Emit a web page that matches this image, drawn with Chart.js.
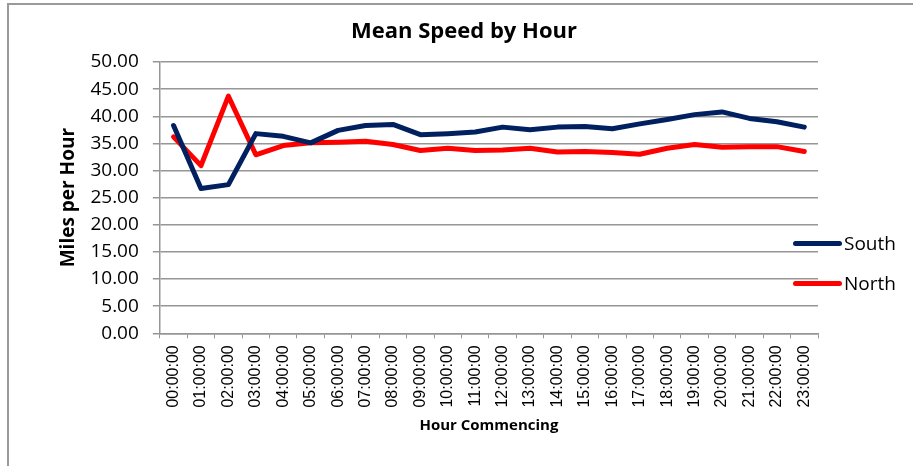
<!DOCTYPE html>
<html lang="en">
<head>
    <meta charset="UTF-8">
    <title>Mean Speed by Hour</title>
    <script src="https://cdn.jsdelivr.net/npm/chart.js"></script>
    <style>
        body {
            margin: 0;
            background: #fff;
            font-family: "Open Sans", "Liberation Sans", Arial, sans-serif;
            overflow: hidden;
        }
        .frame {
            position: absolute;
            left: 7px;
            top: 3px;
            width: 930px;
            height: 490px;
            border: 2px solid #9a9a9a;
        }
        canvas {
            position: absolute;
            left: 0;
            top: 0;
        }
        .title {
            position: absolute;
            left: 264px;
            width: 400px;
            top: 15px;
            line-height: 28px;
            text-align: center;
            font-size: 22px;
            font-weight: bold;
            color: #000;
        }
        .legend {
            position: absolute;
            left: 793px;
            top: 230px;
            font-size: 19px;
            color: #000;
        }
        .legend-item {
            display: flex;
            align-items: center;
            height: 26px;
            margin-bottom: 14px;
        }
        .legend-line {
            width: 49px;
            height: 5px;
            border-radius: 3px;
            margin-right: 2px;
        }
    </style>
</head>
<body>
    <div class="frame"></div>
    <canvas id="speedChart" width="913" height="466"></canvas>
    <div class="title">Mean Speed by Hour</div>
    <div class="legend" id="legend"></div>

    <script>
        const hours = ['00:00:00', '01:00:00', '02:00:00', '03:00:00', '04:00:00', '05:00:00',
                       '06:00:00', '07:00:00', '08:00:00', '09:00:00', '10:00:00', '11:00:00',
                       '12:00:00', '13:00:00', '14:00:00', '15:00:00', '16:00:00', '17:00:00',
                       '18:00:00', '19:00:00', '20:00:00', '21:00:00', '22:00:00', '23:00:00'];
        const south = [38.3, 26.7, 27.4, 36.8, 36.3, 35.1, 37.4, 38.3, 38.5, 36.6, 36.8, 37.1,
                       38.0, 37.5, 38.0, 38.1, 37.7, 38.6, 39.4, 40.3, 40.8, 39.6, 39.0, 38.0];
        const north = [36.2, 30.9, 43.7, 32.9, 34.6, 35.1, 35.2, 35.4, 34.8, 33.7, 34.1, 33.7,
                       33.8, 34.1, 33.4, 33.5, 33.3, 33.0, 34.1, 34.8, 34.3, 34.4, 34.4, 33.5];
        const seriesNames = ['South', 'North'];
        const seriesColors = ['#002060', '#ff0000'];

        const font = '"Open Sans", "Liberation Sans", Arial, sans-serif';
        const tickFont = '"Liberation Sans", Arial, sans-serif';
        const gridColor = '#969696';

        const ctx = document.getElementById('speedChart').getContext('2d');
        const chart = new Chart(ctx, {
            type: 'line',
            data: {
                labels: hours,
                datasets: [south, north].map((values, i) => ({
                    label: seriesNames[i],
                    data: values,
                    borderColor: seriesColors[i],
                    backgroundColor: seriesColors[i],
                    borderWidth: 5,
                    borderCapStyle: 'round',
                    borderJoinStyle: 'round',
                    pointRadius: 0,
                    tension: 0
                }))
            },
            options: {
                responsive: false,
                animation: false,
                devicePixelRatio: 1,
                layout: { padding: { left: 50, right: 95, top: 62, bottom: 25 } },
                plugins: {
                    legend: { display: false },
                    tooltip: { enabled: false }
                },
                scales: {
                    x: {
                        offset: true,
                        grid: {
                            offset: true,
                            drawOnChartArea: false,
                            color: gridColor,
                            tickLength: 5
                        },
                        border: { color: gridColor, width: 1.5 },
                        ticks: {
                            color: '#000',
                            font: { family: tickFont, size: 16 },
                            minRotation: 90,
                            maxRotation: 90,
                            padding: 7,
                            autoSkip: false
                        },
                        title: {
                            display: true,
                            text: 'Hour Commencing',
                            color: '#000',
                            font: { family: font, size: 15, weight: 'bold' },
                            padding: { top: 2, bottom: 6.4 }
                        }
                    },
                    y: {
                        min: 0,
                        max: 50,
                        grid: { color: gridColor, lineWidth: 1.5, tickLength: 7 },
                        border: { color: gridColor, width: 1.5 },
                        ticks: {
                            stepSize: 5,
                            color: '#000',
                            font: { family: font, size: 19 },
                            padding: 14,
                            callback: v => v.toFixed(2)
                        },
                        title: {
                            display: true,
                            text: 'Miles per Hour',
                            color: '#000',
                            font: { family: font, size: 19, weight: 'bold' },
                            padding: { top: 7, bottom: -3.4 }
                        }
                    }
                }
            }
        });

        // legend sits to the right of the plot, like the spreadsheet one
        const legend = document.getElementById('legend');
        chart.data.datasets.forEach(ds => {
            const item = document.createElement('div');
            item.className = 'legend-item';
            item.innerHTML = '<span class="legend-line" style="background:' + ds.borderColor + '"></span>' + ds.label;
            legend.appendChild(item);
        });
    </script>
</body>
</html>
